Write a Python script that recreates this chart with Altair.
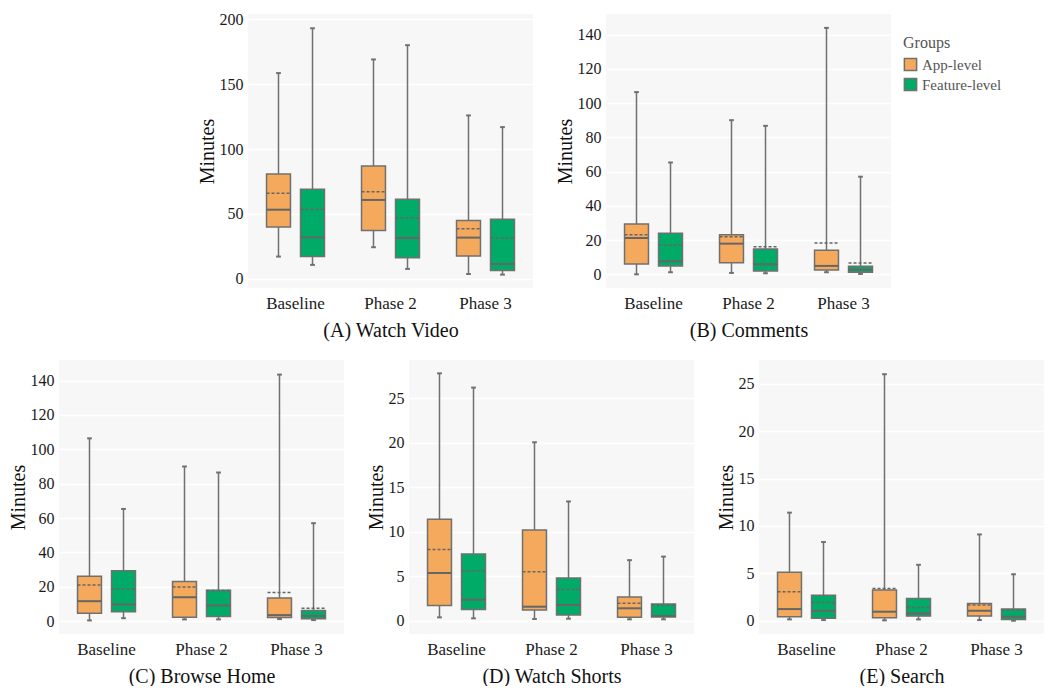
import altair as alt
import pandas as pd

PHASES = ["Baseline", "Phase 2", "Phase 3"]
GROUPS = ["App-level", "Feature-level"]
COLORS = ["#F4A95C", "#00AB68"]
GRAY = "#707070"
FONT = "Liberation Serif"

# Row order for every list below:
# Baseline App, Baseline Feature, Phase 2 App, Phase 2 Feature, Phase 3 App, Phase 3 Feature
ROW_PHASE = ["Baseline", "Baseline", "Phase 2", "Phase 2", "Phase 3", "Phase 3"]
ROW_GROUP = ["App-level", "Feature-level"] * 3

# (A) Watch Video
A_LOW = [17.2, 10.8, 24.4, 7.7, 3.8, 3.3]
A_Q1 = [40.0, 17.2, 37.2, 16.2, 17.7, 6.4]
A_MED = [53.3, 32.0, 60.8, 31.5, 31.8, 11.5]
A_MEAN = [65.9, 53.6, 67.2, 46.9, 38.7, 31.5]
A_Q3 = [80.8, 69.0, 87.0, 61.3, 44.9, 45.9]
A_HIGH = [158.5, 193.0, 169.0, 180.0, 125.9, 116.9]

# (B) Comments
B_LOW = [0.0, 1.2, 0.8, 0.6, 1.2, 0.2]
B_Q1 = [6.0, 4.9, 6.8, 1.9, 2.5, 1.2]
B_MED = [21.2, 7.6, 17.9, 5.8, 4.9, 2.7]
B_MEAN = [23.1, 16.9, 22.0, 16.1, 18.3, 6.6]
B_Q3 = [29.4, 23.9, 23.1, 14.8, 14.0, 4.7]
B_HIGH = [106.4, 65.3, 90.0, 86.7, 143.9, 57.0]

# (C) Browse Home
C_LOW = [0.4, 1.7, 1.0, 1.0, 1.2, 0.6]
C_Q1 = [4.6, 5.4, 2.3, 2.7, 2.1, 1.4]
C_MED = [11.6, 9.7, 13.9, 9.1, 3.5, 3.1]
C_MEAN = [21.0, 18.5, 19.9, 17.8, 16.6, 7.5]
C_Q3 = [26.1, 29.3, 23.0, 18.0, 13.5, 6.2]
C_HIGH = [106.4, 65.3, 90.0, 86.5, 143.5, 57.0]

# (D) Watch Shorts
D_LOW = [0.37, 0.26, 0.19, 0.22, 0.15, 0.15]
D_Q1 = [1.69, 1.24, 1.2, 0.64, 0.37, 0.41]
D_MED = [5.36, 2.36, 1.57, 1.76, 1.39, 0.52]
D_MEAN = [8.0, 5.6, 5.5, 3.5, 1.95, 1.76]
D_Q3 = [11.4, 7.5, 10.2, 4.8, 2.66, 1.87]
D_HIGH = [27.8, 26.2, 20.05, 13.4, 6.8, 7.2]

# (E) Search
E_LOW = [0.14, 0.07, 0.04, 0.14, 0.07, 0.0]
E_Q1 = [0.42, 0.25, 0.32, 0.49, 0.49, 0.14]
E_MED = [1.23, 1.05, 0.95, 0.77, 1.05, 0.42]
E_MEAN = [3.05, 1.93, 3.4, 1.4, 1.65, 1.12]
E_Q3 = [5.1, 2.7, 3.23, 2.35, 1.83, 1.23]
E_HIGH = [11.4, 8.3, 26.0, 5.9, 9.1, 4.9]

A_TICKS = [0, 50, 100, 150, 200]
B_TICKS = [0, 20, 40, 60, 80, 100, 120, 140]
C_TICKS = [0, 20, 40, 60, 80, 100, 120, 140]
D_TICKS = [0, 5, 10, 15, 20, 25]
E_TICKS = [0, 5, 10, 15, 20, 25]

W = 285
H = 274
BOX_SPAN = [(0.195, 0.447), (0.553, 0.805)]
CAP = 0.025


def make_df(low, q1, med, mean, q3, high):
    return pd.DataFrame({
        "phase": ROW_PHASE, "group": ROW_GROUP,
        "low": low, "q1": q1, "med": med, "mean": mean, "q3": q3, "high": high,
    })


def panel(df, title, domain, ticks, legend):
    xscale = alt.Scale(type="band", domain=PHASES, paddingInner=0, paddingOuter=0)
    yscale = alt.Scale(domain=domain, nice=False, zero=False)

    def X(b):
        return alt.X("phase:N", bandPosition=b, scale=xscale,
                     axis=alt.Axis(labelAngle=0), title=title)

    def X2(b):
        return alt.X2("phase", bandPosition=b)

    def Y(f):
        return alt.Y(f + ":Q", scale=yscale, axis=alt.Axis(values=ticks), title="Minutes")

    base = alt.Chart(df)
    layers = []
    for gi, g in enumerate(GROUPS):
        lo, hi = BOX_SPAN[gi]
        c = (lo + hi) / 2
        sub = base.transform_filter(alt.datum.group == g)
        whisker = sub.mark_rule(color=GRAY, strokeWidth=1.5).encode(
            x=X(c), y=Y("low"), y2="high")
        cap_lo = sub.mark_rule(color=GRAY, strokeWidth=2).encode(
            x=X(c - CAP), x2=X2(c + CAP), y=Y("low"))
        cap_hi = sub.mark_rule(color=GRAY, strokeWidth=2).encode(
            x=X(c - CAP), x2=X2(c + CAP), y=Y("high"))
        box = sub.mark_bar(stroke=GRAY, strokeWidth=1.5, opacity=1).encode(
            x=X(lo), x2=X2(hi), y=Y("q1"), y2="q3",
            color=alt.Color("group:N", scale=alt.Scale(domain=GROUPS, range=COLORS),
                            legend=legend, title="Groups"))
        med = sub.mark_rule(color="#666666", strokeWidth=2).encode(
            x=X(lo), x2=X2(hi), y=Y("med"))
        mean = sub.mark_rule(color="#666666", strokeWidth=1.5, strokeDash=[3, 2]).encode(
            x=X(lo), x2=X2(hi), y=Y("mean"))
        layers += [whisker, cap_lo, cap_hi, box, med, mean]
    return alt.layer(*layers).properties(width=W, height=H)


no_legend = None
legend_b = alt.Legend(orient="none", legendX=W + 12, legendY=21)

pa = panel(make_df(A_LOW, A_Q1, A_MED, A_MEAN, A_Q3, A_HIGH), "(A) Watch Video", [-7, 204], A_TICKS, no_legend)
pb = panel(make_df(B_LOW, B_Q1, B_MED, B_MEAN, B_Q3, B_HIGH), "(B) Comments", [-8, 152], B_TICKS, legend_b)
pc = panel(make_df(C_LOW, C_Q1, C_MED, C_MEAN, C_Q3, C_HIGH), "(C) Browse Home", [-7.5, 152], C_TICKS, no_legend)
pd_ = panel(make_df(D_LOW, D_Q1, D_MED, D_MEAN, D_Q3, D_HIGH), "(D) Watch Shorts", [-1.5, 29.3], D_TICKS, no_legend)
pe = panel(make_df(E_LOW, E_Q1, E_MED, E_MEAN, E_Q3, E_HIGH), "(E) Search", [-1.4, 27.5], E_TICKS, no_legend)

spacer = alt.Chart(pd.DataFrame({"v": [0]})).mark_text(text="").encode(
    x=alt.value(0), y=alt.value(0)
).properties(width=116, height=10, view=alt.ViewBackground(fill="transparent", strokeWidth=0))

top = alt.hconcat(spacer, pa, pb, spacing=22).resolve_scale(color="independent")
bottom = alt.hconcat(pc, pd_, pe, spacing=22).resolve_scale(color="independent")

chart = alt.vconcat(top, bottom, spacing=20).resolve_scale(color="independent").properties(
    padding=0
).configure(font=FONT).configure_view(
    fill="#F7F7F7", strokeWidth=0
).configure_axis(
    domain=False, ticks=False, grid=True, gridColor="#FFFFFF", gridWidth=1.5,
    labelFont=FONT, labelFontSize=16, labelColor="#1a1a1a",
    titleFont=FONT, titleFontSize=20, titleFontWeight="normal", titleColor="#111111",
).configure_axisX(
    grid=False, labelFontSize=17, labelPadding=7, titlePadding=9
).configure_axisY(
    labelPadding=5, titlePadding=2
).configure_legend(
    titleFont=FONT, titleFontSize=16, titleFontWeight="normal", titleColor="#555555",
    labelFont=FONT, labelFontSize=15, labelColor="#555555",
    symbolType="square", symbolSize=150, symbolStrokeColor=GRAY, symbolStrokeWidth=1.5,
    symbolOpacity=1, rowPadding=1, titlePadding=6,
)

chart.save("out.html", embed_options={"renderer": "svg", "actions": False})
